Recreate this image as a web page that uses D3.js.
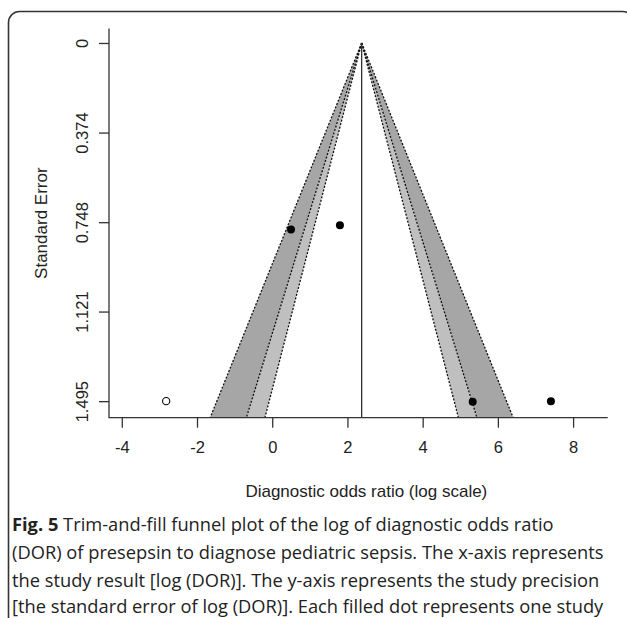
<!DOCTYPE html>
<html>
<head>
<meta charset="utf-8">
<script src="https://cdn.jsdelivr.net/npm/d3@7/dist/d3.min.js"></script>
<style>
  html, body { margin: 0; padding: 0; background: #fff; }
  svg { display: block; }
</style>
</head>
<body>
<svg id="chart" width="627" height="618"></svg>
<script>
// ---- data ----
const studyLogDOR = [0.50, 1.80, 5.33, 7.41];
const studySE     = [0.779, 0.761, 1.497, 1.495];
const filledLogDOR = [-2.82];
const filledSE     = [1.495];
const pooledEstimate = [2.378];
const contourLevels = [90, 95, 99];
const contourZ      = [1.645, 1.960, 2.576];
const xTickValues = [-4, -2, 0, 2, 4, 6, 8];
const yTickValues = [0, 0.374, 0.748, 1.121, 1.495];
const yTickLabels = ["0", "0.374", "0.748", "1.121", "1.495"];
const xDomain = [-4.34, 8.92];
const yDomain = [-0.06, 1.564];
const xTitle = "Diagnostic odds ratio (log scale)";
const yTitle = "Standard Error";
const captionBold = "Fig. 5";
const captionLines = [
  " Trim-and-fill funnel plot of the log of diagnostic odds ratio",
  "(DOR) of presepsin to diagnose pediatric sepsis. The x-axis represents",
  "the study result [log (DOR)]. The y-axis represents the study precision",
  "[the standard error of log (DOR)]. Each filled dot represents one study"
];

// ---- layout ----
const svg = d3.select("#chart");
const L = 109, R = 607.7, T = 28.6, B = 417.7;
const axisFont = "'Liberation Sans', Arial, sans-serif";
const ink = "#222";

svg.append("rect").attr("width", 627).attr("height", 618).attr("fill", "#fff");

// outer rounded frame
svg.append("rect")
  .attr("x", 8.5).attr("y", 11.5).attr("width", 625).attr("height", 700)
  .attr("rx", 11).attr("ry", 11)
  .attr("fill", "none").attr("stroke", "#333").attr("stroke-width", 1.6);

const x = d3.scaleLinear().domain(xDomain).range([L, R]);
const y = d3.scaleLinear().domain(yDomain).range([T, B]);

const est = pooledEstimate[0];
const seBottom = yDomain[1];

// funnel bands
const bandFills = ["#bfbfbf", "#a6a6a6"]; // 90-95, 95-99
const plot = svg.append("g");
for (let i = 0; i < contourZ.length - 1; i++) {
  const zLo = contourZ[i], zHi = contourZ[i + 1];
  [-1, 1].forEach(side => {
    const pts = [
      [x(est), y(0)],
      [x(est + side * zHi * seBottom), y(seBottom)],
      [x(est + side * zLo * seBottom), y(seBottom)]
    ];
    plot.append("polygon")
      .attr("points", pts.map(p => p.join(",")).join(" "))
      .attr("fill", bandFills[i]).attr("stroke", "none");
  });
}
// dotted contour lines
contourZ.forEach(z => {
  [-1, 1].forEach(side => {
    plot.append("line")
      .attr("x1", x(est)).attr("y1", y(0))
      .attr("x2", x(est + side * z * seBottom)).attr("y2", y(seBottom))
      .attr("stroke", "#111").attr("stroke-width", 1.3)
      .attr("stroke-dasharray", "2,1.6");
  });
});
// vertical line at estimate
plot.append("line")
  .attr("x1", x(est)).attr("x2", x(est))
  .attr("y1", y(0)).attr("y2", y(seBottom))
  .attr("stroke", "#333").attr("stroke-width", 1.3);

// L box
svg.append("path")
  .attr("d", `M${L},${T}V${B}H${R}`)
  .attr("fill", "none").attr("stroke", "#333").attr("stroke-width", 1.3);

// axes
const xAxis = d3.axisBottom(x).tickValues(xTickValues).tickSize(10).tickSizeOuter(0).tickPadding(14)
  .tickFormat(d => String(d));
const gx = svg.append("g").attr("transform", `translate(0,${B})`).call(xAxis);
gx.select(".domain").remove();
gx.selectAll(".tick line").attr("stroke", "#333").attr("stroke-width", 1.3);
gx.selectAll(".tick text").attr("font-family", axisFont).attr("font-size", 16.5).attr("fill", ink);

const yAxis = d3.axisLeft(y).tickValues(yTickValues).tickSize(10).tickSizeOuter(0)
  .tickFormat((d, i) => yTickLabels[i]);
const gy = svg.append("g").attr("transform", `translate(${L},0)`).call(yAxis);
gy.select(".domain").remove();
gy.selectAll(".tick line").attr("stroke", "#333").attr("stroke-width", 1.3);
gy.selectAll(".tick text")
  .attr("font-family", axisFont).attr("font-size", 16.5).attr("fill", ink)
  .attr("x", null).attr("dy", null)
  .attr("text-anchor", "middle")
  .attr("transform", "translate(-21,0) rotate(-90)");

// axis titles
svg.append("text")
  .attr("x", (L + R) / 2 + 8).attr("y", 497)
  .attr("text-anchor", "middle")
  .attr("font-family", axisFont).attr("font-size", 17).attr("fill", ink)
  .text(xTitle);
svg.append("text")
  .attr("transform", `translate(47,${(T + B) / 2}) rotate(-90)`)
  .attr("text-anchor", "middle")
  .attr("font-family", axisFont).attr("font-size", 17).attr("fill", ink)
  .text(yTitle);

// points
plot.selectAll("circle.obs")
  .data(studyLogDOR.map((v, i) => ({ v, se: studySE[i] })))
  .join("circle").attr("class", "obs")
  .attr("cx", d => x(d.v)).attr("cy", d => y(d.se)).attr("r", 4)
  .attr("fill", "#000");
plot.selectAll("circle.fill")
  .data(filledLogDOR.map((v, i) => ({ v, se: filledSE[i] })))
  .join("circle").attr("class", "fill")
  .attr("cx", d => x(d.v)).attr("cy", d => y(d.se)).attr("r", 3.6)
  .attr("fill", "#fff").attr("stroke", "#000").attr("stroke-width", 1.1);

// caption
const capFont = "'Open Sans', 'Noto Sans', sans-serif";
const capBase = [531, 559, 587, 613];
let capSize = 18;
const cap = svg.append("g");
captionLines.forEach((line, i) => {
  const t = cap.append("text")
    .attr("x", 12).attr("y", capBase[i])
    .attr("font-family", capFont).attr("font-size", capSize).attr("fill", "#222");
  if (i === 0) {
    t.append("tspan").attr("font-weight", "bold").text(captionBold);
  }
  t.append("tspan").text(line);
});
// fit caption font so line 2 spans to ~604px
const ref = cap.selectAll("text").nodes()[1];
const w = ref.getComputedTextLength();
capSize = capSize * (604 - 12) / w;
cap.selectAll("text").attr("font-size", capSize);
</script>
</body>
</html>
